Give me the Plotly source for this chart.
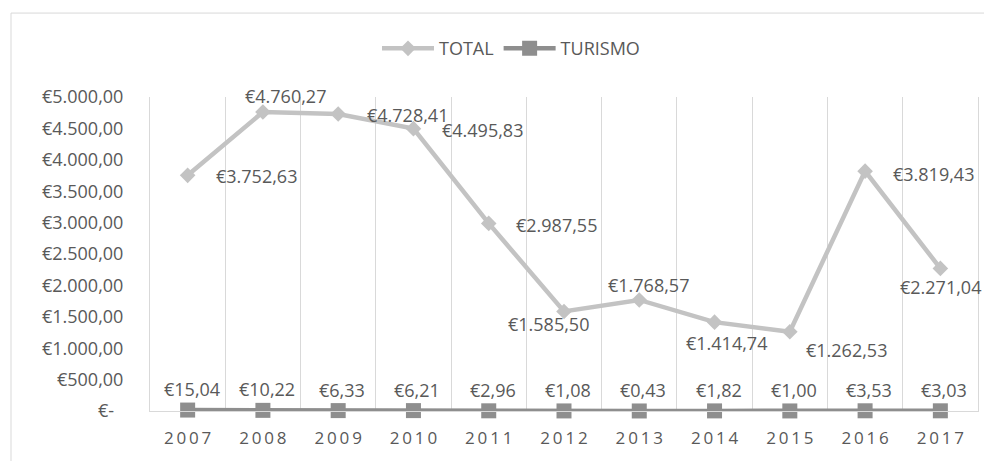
import plotly.graph_objects as go

years = ["2007", "2008", "2009", "2010", "2011", "2012", "2013", "2014", "2015", "2016", "2017"]
total = [3752.63, 4760.27, 4728.41, 4495.83, 2987.55, 1585.50, 1768.57, 1414.74, 1262.53, 3819.43, 2271.04]
turismo = [15.04, 10.22, 6.33, 6.21, 2.96, 1.08, 0.43, 1.82, 1.00, 3.53, 3.03]
y_ticks = [0, 500, 1000, 1500, 2000, 2500, 3000, 3500, 4000, 4500, 5000]

# where each TOTAL label sits relative to its point (anchor, dx, dy) - placed by hand in the original
total_label_pos = [
    ("left", 26, -1), ("center", 23, 16), ("left", 27, -1), ("left", 27, -1),
    ("left", 25, -2), ("center", -16, -13), ("center", 9, 15), ("center", 12, -21),
    ("left", 14, -18), ("left", 26, -3), ("center", 0, -19),
]

FONT = "Open Sans"
TEXT = "#595959"
GRID = "#D9D9D9"
C_TOTAL = "#C3C3C3"
C_TUR = "#8E8E8E"

# the page body has an 8px margin, so the figure is drawn 8px smaller and everything shifted
W, H = 984, 453
L, R, T, B = 142, 14, 89, 46
PW, PH = W - L - R, H - T - B


def eur(v):
    # european number format: 1.234,56
    s = f"{v:,.2f}"
    return "€" + s.replace(",", "X").replace(".", ",").replace("X", ".")


fig = go.Figure()
fig.add_trace(go.Scatter(
    x=years, y=total, name="TOTAL", mode="lines+markers",
    line=dict(color=C_TOTAL, width=4.5),
    marker=dict(symbol="diamond", size=12, color=C_TOTAL),
    cliponaxis=False,
))
fig.add_trace(go.Scatter(
    x=years, y=turismo, name="TURISMO", mode="lines+markers",
    line=dict(color=C_TUR, width=4.5),
    marker=dict(symbol="square", size=15, color=C_TUR),
    cliponaxis=False,
))

# annotations on a category axis take the category index
annotations = []
for i, (v, (anc, dx, dy)) in enumerate(zip(total, total_label_pos)):
    annotations.append(dict(
        x=i, y=v, text=eur(v), showarrow=False, xanchor=anc, yanchor="middle",
        xshift=dx, yshift=dy, font=dict(family=FONT, size=18, color=TEXT),
    ))
for i, v in enumerate(turismo):
    annotations.append(dict(
        x=i, y=v, text=eur(v), showarrow=False, xanchor="center", yanchor="middle",
        xshift=4, yshift=21, font=dict(family=FONT, size=18, color=TEXT),
    ))

tick_text = [eur(t) if t else "€-\u00a0\u00a0" for t in y_ticks]

fig.update_layout(
    width=W, height=H,
    margin=dict(l=L, r=R, t=T, b=B),
    paper_bgcolor="white", plot_bgcolor="white",
    font=dict(family=FONT, size=18, color=TEXT),
    showlegend=True,
    legend=dict(
        orientation="h", x=0.436, xanchor="center", y=1.154, yanchor="middle",
        font=dict(family=FONT, size=18, color=TEXT), bgcolor="rgba(0,0,0,0)",
        itemwidth=52, entrywidthmode="pixels",
    ),
    xaxis=dict(
        type="category", categoryarray=years, range=[-0.5, len(years) - 0.5],
        tickson="boundaries", showgrid=True, gridcolor=GRID, gridwidth=1,
        tickvals=years, ticktext=["\u2009".join(y) for y in years],
        ticks="", showline=True, linecolor=GRID, linewidth=1,
        tickfont=dict(family=FONT, size=17, color=TEXT), tickangle=0,
        ticklabelstandoff=12, zeroline=False,
    ),
    yaxis=dict(
        range=[0, 5000], tickvals=y_ticks, ticktext=tick_text,
        showgrid=False, zeroline=False, ticks="",
        showline=True, mirror=True, linecolor=GRID, linewidth=1,
        tickfont=dict(family=FONT, size=18, color=TEXT),
        ticklabelstandoff=22,
    ),
    annotations=annotations,
    shapes=[dict(
        type="rect", xref="paper", yref="paper",
        x0=(3 - L) / PW, x1=1.2, y0=-0.4, y1=(H - B - 4) / PH,
        line=dict(color=GRID, width=1), fillcolor="rgba(0,0,0,0)", layer="below",
    )],
)

fig.write_html("out.html")
